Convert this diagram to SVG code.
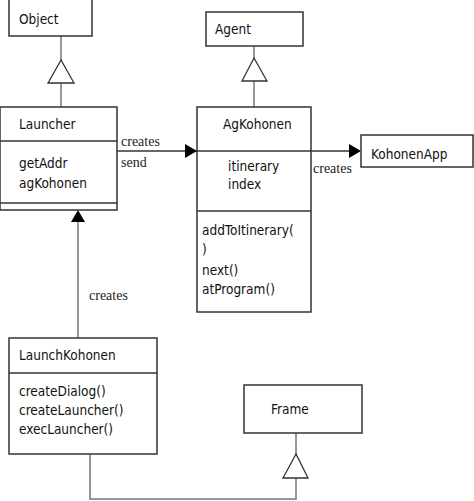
<svg xmlns="http://www.w3.org/2000/svg" width="474" height="501" viewBox="0 0 474 501">
<style>
.box{fill:#fff;stroke:#333;stroke-width:1.5}
.sep{stroke:#333;stroke-width:1.5}
.t{font-family:"DejaVu Sans",sans-serif;font-stretch:condensed;font-size:13.5px;fill:#111}
.s{font-family:"Liberation Serif",serif;font-size:14px;fill:#222}
.c{fill:none;stroke:#777;stroke-width:1.5}
.tri{fill:#fff;stroke:#333;stroke-width:1.3}
.ah{fill:#000}
</style>
<rect width="474" height="501" fill="#fff"/>
<g id="connectors">
<line class="c" x1="61" y1="36" x2="61" y2="107"/>
<line class="c" x1="254" y1="46" x2="254" y2="107"/>
<line class="c" x1="117" y1="151" x2="352" y2="151" style="stroke:#333"/>
<line class="c" x1="78" y1="222" x2="78" y2="338"/>
<polyline class="c" points="90,454 90,499 296,499 296,433"/>
<polygon class="tri" points="61,60 48,83 74,83"/>
<polygon class="tri" points="254,58 242,81 267,81"/>
<polygon class="tri" points="296,454 283,478 308,478"/>
<polygon class="ah" points="197,151 185,144 185,158"/>
<polygon class="ah" points="361,151 349,144 349,158"/>
<polygon class="ah" points="78,210 71,222 85,222"/>
<text class="s" x="121" y="146">creates</text>
<text class="s" x="121" y="167">send</text>
<text class="s" x="313" y="173">creates</text>
<text class="s" x="89" y="300">creates</text>
</g>
<g id="Object">
<rect class="box" x="9" y="-1" width="83" height="37"/>
<text class="t" x="19" y="24">Object</text>
</g>
<g id="Launcher">
<rect class="box" x="0" y="107" width="117" height="103"/>
<line class="sep" x1="0" y1="141" x2="117" y2="141"/>
<line class="sep" x1="0" y1="203" x2="117" y2="203"/>
<text class="t" x="19" y="129">Launcher</text>
<text class="t" x="19" y="168">getAddr</text>
<text class="t" x="19" y="188">agKohonen</text>
</g>
<g id="Agent">
<rect class="box" x="206" y="12" width="97" height="34"/>
<text class="t" x="215" y="34">Agent</text>
</g>
<g id="AgKohonen">
<rect class="box" x="197" y="107" width="114" height="205"/>
<line class="sep" x1="197" y1="211" x2="311" y2="211"/>
<text class="t" x="223" y="129">AgKohonen</text>
<text class="t" x="228" y="171">itinerary</text>
<text class="t" x="228" y="189">index</text>
<text class="t" x="202" y="235">addToItinerary(</text>
<text class="t" x="202" y="254">)</text>
<text class="t" x="202" y="275">next()</text>
<text class="t" x="202" y="294">atProgram()</text>
</g>
<line x1="197" y1="151" x2="311" y2="151" stroke="#333" stroke-width="1.5"/>
<g id="KohonenApp">
<rect class="box" x="361" y="135" width="112" height="32"/>
<text class="t" x="371" y="159">KohonenApp</text>
</g>
<g id="LaunchKohonen">
<rect class="box" x="9" y="338" width="148" height="116"/>
<line class="sep" x1="9" y1="373" x2="157" y2="373"/>
<text class="t" x="19" y="360">LaunchKohonen</text>
<text class="t" x="19" y="396">createDialog()</text>
<text class="t" x="19" y="415">createLauncher()</text>
<text class="t" x="19" y="434">execLauncher()</text>
</g>
<g id="Frame">
<rect class="box" x="244" y="385" width="118" height="48"/>
<text class="t" x="271" y="414">Frame</text>
</g>
</svg>
